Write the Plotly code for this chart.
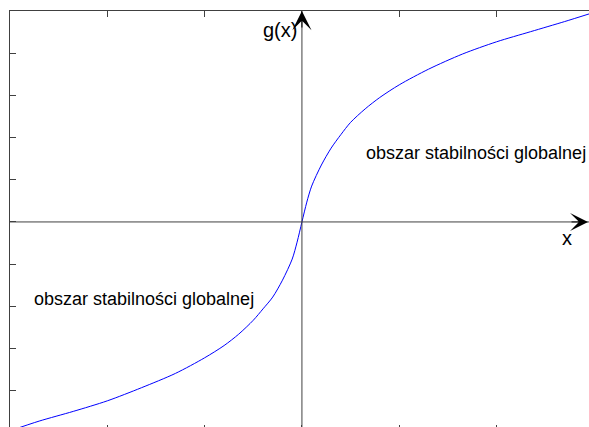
import plotly.graph_objects as go

# Samples of g(x), odd, steep near the origin and flattening outward
x_vals = [-3.0, -2.7, -2.35, -2.0, -1.65, -1.3, -1.0, -0.8, -0.65, -0.5,
          -0.4, -0.3, -0.2, -0.1, -0.05, 0.0, 0.05, 0.1, 0.2, 0.3,
          0.4, 0.5, 0.65, 0.8, 1.0, 1.3, 1.65, 2.0, 2.35, 2.7, 2.95]
g_vals = [-4.95, -4.72, -4.49, -4.24, -3.93, -3.59, -3.22, -2.93, -2.66, -2.33,
          -2.06, -1.78, -1.38, -0.88, -0.48, 0.0, 0.47, 0.85, 1.35, 1.75,
          2.07, 2.36, 2.68, 2.95, 3.25, 3.62, 3.98, 4.27, 4.51, 4.75, 4.93]

x_ticks = [-3, -2, -1, 0, 1, 2]
y_ticks = [-4, -3, -2, -1, 0, 1, 2, 3, 4, 5]

x_range = [-3.0, 2.95]
y_range = [-4.86, 5.0]

region_label = "obszar stabilności globalnej"
font_family = "Liberation Sans, Arial, sans-serif"
frame_color = "#404040"

fig = go.Figure()
fig.add_trace(go.Scatter(
    x=x_vals, y=g_vals, mode="lines",
    line=dict(color="#0000ff", width=1, shape="spline", smoothing=0.8),
    hoverinfo="skip", showlegend=False,
))
# carrier for the bottom tick axis
fig.add_trace(go.Scatter(x=[], y=[], xaxis="x2", showlegend=False))

# coordinate axes through the origin
fig.add_shape(type="line", xref="x", yref="y", x0=x_range[0], x1=x_range[1],
              y0=0, y1=0, line=dict(color=frame_color, width=1))
fig.add_shape(type="line", xref="x", yref="y", x0=0, x1=0,
              y0=y_range[0], y1=y_range[1], line=dict(color=frame_color, width=1))

annotations = [
    # arrowheads
    dict(x=0, y=y_range[1], xref="x", yref="y", ax=0, ay=18, text="",
         showarrow=True, arrowhead=3, arrowsize=3.2, arrowwidth=1,
         arrowcolor="black"),
    dict(x=2.94, y=0, xref="x", yref="y", ax=-18, ay=0, text="",
         showarrow=True, arrowhead=3, arrowsize=3.0, arrowwidth=1,
         arrowcolor="black"),
    # axis names
    dict(x=-0.23, y=4.55, xref="x", yref="y", text="g(x)", showarrow=False,
         font=dict(family=font_family, size=20, color="black")),
    dict(x=2.72, y=-0.38, xref="x", yref="y", text="x", showarrow=False,
         font=dict(family=font_family, size=20, color="black")),
    # region labels
    dict(x=1.79, y=1.64, xref="x", yref="y", text=region_label, showarrow=False,
         font=dict(family=font_family, size=18, color="black")),
    dict(x=-1.62, y=-1.82, xref="x", yref="y", text=region_label, showarrow=False,
         font=dict(family=font_family, size=18, color="black")),
]

fig.update_layout(
    width=589, height=427,
    margin=dict(l=10, r=0, t=11, b=0, pad=0),
    paper_bgcolor="white", plot_bgcolor="white",
    showlegend=False,
    annotations=annotations,
    xaxis=dict(range=x_range, side="top", showline=True, linecolor=frame_color,
               linewidth=1, ticks="inside", ticklen=6, tickcolor=frame_color,
               tickvals=x_ticks, showticklabels=False, showgrid=False,
               zeroline=False, fixedrange=True),
    xaxis2=dict(range=x_range, overlaying="x", side="bottom", anchor="y",
                showline=False, ticks="inside", ticklen=2, tickcolor=frame_color,
                tickvals=x_ticks, showticklabels=False, showgrid=False,
                zeroline=False, fixedrange=True),
    yaxis=dict(range=y_range, side="left", showline=True, linecolor=frame_color,
               linewidth=1, ticks="inside", ticklen=6, tickcolor=frame_color,
               tickvals=y_ticks, showticklabels=False, showgrid=False,
               zeroline=False, fixedrange=True),
)

fig.write_html("out.html", config={"displayModeBar": False})
